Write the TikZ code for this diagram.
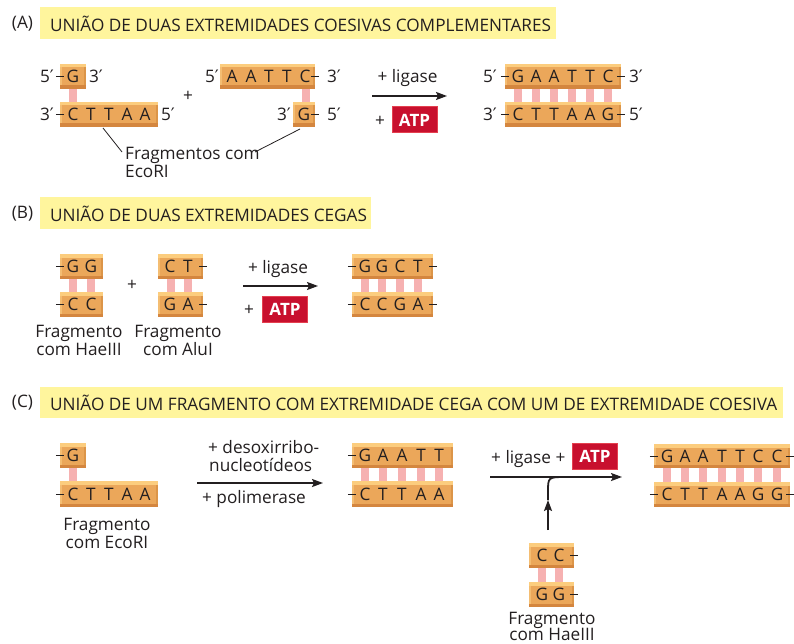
\documentclass[tikz,border=0pt]{standalone}
\usepackage{fontspec}
\setmainfont{Open Sans}
\newfontfamily\primefont{DejaVu Sans}
\usetikzlibrary{arrows.meta}
\definecolor{boxmain}{HTML}{EBA75A}
\definecolor{boxtop}{HTML}{FCCD7E}
\definecolor{boxbot}{HTML}{D4863F}
\definecolor{boxleft}{HTML}{F4BD72}
\definecolor{boxright}{HTML}{DC9548}
\definecolor{pinkbar}{HTML}{F6B1B1}
\definecolor{banner}{HTML}{FFF59D}
\definecolor{atpred}{HTML}{C8102E}
\definecolor{atpedge}{HTML}{E4404F}
\definecolor{ink}{HTML}{231F20}
\newcommand\pr{{\primefont\char"2032}}
\newcommand\strandat[5]{\node[strand, minimum width={(#4)-(#2)}, minimum height={(#5)-(#3)}] (#1) at ({((#2)+(#4))/2},{((#3)+(#5))/2}) {};}
\newcommand\seq[3]{\foreach \xx/\ll [count=\k] in {#3} \node[nt] (#1-\k) at (\xx,#2) {\ll};}
\newcommand\bars[3]{\foreach \xx in {#3} \fill[pinkbar] (\xx-4,#1) rectangle (\xx+4,#2);}
\newcommand\dashL[1]{\draw[dashln] ([xshift=-4pt]#1.west) -- ([xshift=4pt]#1.west);}
\newcommand\dashR[1]{\draw[dashln] ([xshift=-4pt]#1.east) -- ([xshift=4pt]#1.east);}
\begin{document}
\begin{tikzpicture}[x=1pt,y=-1pt,
  every node/.style={text=ink},
  txt/.style={font=\fontsize{17.2}{20}\selectfont, inner sep=0pt},
  nt/.style={txt},
  lab/.style={txt, anchor=base},
  strand/.style={draw=none, fill=boxmain, inner sep=0pt, path picture={
    \fill[boxleft] (path picture bounding box.north west) rectangle ([xshift=2pt]path picture bounding box.south west);
    \fill[boxright] ([xshift=-2pt]path picture bounding box.north east) rectangle (path picture bounding box.south east);
    \fill[boxtop] (path picture bounding box.north west) rectangle ([yshift=-3.5pt]path picture bounding box.north east);
    \fill[boxbot] ([yshift=3.5pt]path picture bounding box.south west) rectangle (path picture bounding box.south east);}},
  dashln/.style={draw=ink, line width=0.9pt},
  atp/.style={fill=atpred, draw=atpedge, line width=1pt, text=white, font=\bfseries\fontsize{17}{17}\selectfont, minimum width=45pt, minimum height=26pt, inner sep=0pt},
  arr/.style={draw=ink, line width=1.8pt, -{Stealth[length=11pt,width=8pt,inset=2pt]}},
  thin/.style={draw=ink, line width=0.8pt}
]
\useasboundingbox (0,0) rectangle (794,644);
\fill[white] (0,0) rectangle (794,644);

% ===== (A) =====
\fill[banner] (40,7) rectangle (556,39);
\node[txt] (lA) at (22.5,24) {(A)};
\node[txt, anchor=west] (tA) at (50,24) {UNIÃO DE DUAS EXTREMIDADES COESIVAS COMPLEMENTARES};

\strandat{a1t}{60}{64}{86}{89}
\strandat{a1b}{60}{102}{158}{127}
\bars{89}{102}{73}
\seq{a1t}{76.5}{73/G}
\seq{a1b}{114.5}{73/C,91/T,109/T,127/A,145/A}
\dashL{a1t} \dashL{a1b}
\node[nt] (p1) at (47,76.5) {5\pr};
\node[nt] (p2) at (96,76.5) {3\pr};
\node[nt] (p3) at (47,114.5) {3\pr};
\node[nt] (p4) at (168,114.5) {5\pr};

\node[txt] (plusA) at (188,96) {+};

\strandat{a2t}{220}{64}{315}{89}
\strandat{a2b}{293}{102}{315}{127}
\bars{89}{102}{306}
\seq{a2t}{76.5}{232/A,251/A,269/T,287/T,305/C}
\seq{a2b}{114.5}{304/G}
\dashR{a2t} \dashR{a2b}
\node[nt] (p5) at (212,76.5) {5\pr};
\node[nt] (p6) at (334,76.5) {3\pr};
\node[nt] (p7) at (284,114.5) {3\pr};
\node[nt] (p8) at (334,114.5) {5\pr};

\node[lab, anchor=base west] (fA1) at (125,160) {Fragmentos com};
\node[lab, anchor=base west] (fA2) at (125,178) {EcoRI};
\coordinate (cA1) at (103,128);
\coordinate (cA2) at (122,152);
\coordinate (cA3) at (300,129);
\coordinate (cA4) at (255,152);
\draw[thin] (cA1) -- (cA2);
\draw[thin] (cA3) -- (cA4);

\coordinate (arA1) at (372,96);
\coordinate (arA2) at (447,96);
\draw[arr] (arA1) -- (arA2);
\node[lab] (ligA) at (407.5,83) {+ ligase};
\node[txt] (plA) at (380,121) {+};
\node[atp] (atpA) at (414.5,120) {ATP};

\strandat{r1t}{505}{64}{621}{89}
\strandat{r1b}{505}{102}{621}{127}
\bars{89}{102}{518,536,554,572,590,608}
\seq{r1t}{76.5}{518/G,536/A,554/A,572/T,590/T,608/C}
\seq{r1b}{114.5}{518/C,536/T,554/T,572/A,590/A,608/G}
\dashL{r1t} \dashR{r1t} \dashL{r1b} \dashR{r1b}
\node[nt] (p9) at (490,76.5) {5\pr};
\node[nt] (p10) at (636,76.5) {3\pr};
\node[nt] (p11) at (490,114.5) {3\pr};
\node[nt] (p12) at (636,114.5) {5\pr};

% ===== (B) =====
\fill[banner] (40,197) rectangle (371,229);
\node[txt] (lB) at (22.5,214) {(B)};
\node[txt, anchor=west] (tB) at (50,214) {UNIÃO DE DUAS EXTREMIDADES CEGAS};

\strandat{b1t}{60}{254}{103}{279}
\strandat{b1b}{60}{292}{103}{317}
\bars{279}{292}{73,91}
\seq{b1t}{266.5}{73/G,91/G}
\seq{b1b}{304.5}{73/C,91/C}
\dashL{b1t} \dashL{b1b}
\node[lab] (fB1) at (79,337) {Fragmento};
\node[lab] (fB2) at (79,355) {com HaeIII};

\node[txt] (plusB) at (132,285) {+};

\strandat{b2t}{158}{254}{203}{279}
\strandat{b2b}{158}{292}{203}{317}
\bars{279}{292}{171,188}
\seq{b2t}{266.5}{170/C,188/T}
\seq{b2b}{304.5}{170/G,188/A}
\dashR{b2t} \dashR{b2b}
\node[lab] (fB3) at (178,337) {Fragmento};
\node[lab] (fB4) at (178,355) {com AluI};

\coordinate (arB1) at (243,286);
\coordinate (arB2) at (318,286);
\draw[arr] (arB1) -- (arB2);
\node[lab] (ligB) at (278,273) {+ ligase};
\node[txt] (plB) at (249,310) {+};
\node[atp] (atpB) at (285,309.5) {ATP};

\strandat{b3t}{352}{254}{433}{279}
\strandat{b3b}{352}{292}{433}{317}
\bars{279}{292}{365,382,400,418}
\seq{b3t}{266.5}{365/G,382/G,400/C,418/T}
\seq{b3b}{304.5}{365/C,382/C,400/G,418/A}
\dashL{b3t} \dashR{b3t} \dashL{b3b} \dashR{b3b}

% ===== (C) =====
\fill[banner] (40,387) rectangle (783,418);
\node[txt] (lC) at (22.5,403) {(C)};
\node[txt, anchor=west] (tC) at (50,403) {UNIÃO DE UM FRAGMENTO COM EXTREMIDADE CEGA COM UM DE EXTREMIDADE COESIVA};

\strandat{c1t}{60}{443}{86}{468}
\strandat{c1b}{60}{481}{158}{507}
\bars{468}{481}{73}
\seq{c1t}{455.5}{73/G}
\seq{c1b}{494}{73/C,91/T,109/T,127/A,145/A}
\dashL{c1t} \dashL{c1b}
\node[lab] (fC1) at (107,530) {Fragmento};
\node[lab] (fC2) at (107,548) {com EcoRI};

\coordinate (arC1) at (197,483);
\coordinate (arC2) at (323,483);
\draw[arr] (arC1) -- (arC2);
\node[lab, anchor=base west] (dC1) at (208,453) {+ desoxirribo-};
\node[lab, anchor=base west] (dC2) at (209,471) {nucleotídeos};
\node[lab, anchor=base west] (dC3) at (202,503) {+ polimerase};

\strandat{c2t}{352}{443}{453}{468}
\strandat{c2b}{352}{481}{453}{507}
\bars{468}{481}{365,383,402,421,439}
\seq{c2t}{455.5}{365/G,383/A,402/A,421/T,439/T}
\seq{c2b}{494}{365/C,383/T,402/T,421/A,439/A}
\dashL{c2t} \dashL{c2b}

\coordinate (arD1) at (490,477);
\coordinate (arD2) at (622,477);
\draw[arr] (arD1) -- (arD2);
\node[lab, anchor=base west] (ligC) at (491,463) {+ ligase +};
\node[atp] (atpC) at (595,456) {ATP};

\strandat{c4t}{529}{543}{574}{568}
\strandat{c4b}{529}{582}{574}{607}
\bars{568}{582}{542,559}
\seq{c4t}{555.5}{542/C,559/C}
\seq{c4b}{594.5}{542/G,559/G}
\dashR{c4t} \dashR{c4b}
\node[lab] (fC3) at (552,624) {Fragmento};
\node[lab] (fC4) at (552,640) {com HaeIII};

\coordinate (brA) at (548,530);
\coordinate (brM) at (548,500);
\coordinate (brB) at (548,492);
\coordinate (brC) at (548,477);
\coordinate (brD) at (566,477);
\draw[arr] (brA) -- (brM);
\draw[draw=ink, line width=1.8pt] (brM) -- (brB) .. controls (brC) .. (brD);

\strandat{c3t}{654}{444}{790}{468}
\strandat{c3b}{654}{482}{790}{507}
\bars{468}{482}{667,685,703,722,740,758,777}
\seq{c3t}{456}{667/G,685/A,703/A,722/T,740/T,758/C,777/C}
\seq{c3b}{494.5}{667/C,685/T,703/T,722/A,740/A,758/G,777/G}
\dashL{c3t} \dashR{c3t} \dashL{c3b} \dashR{c3b}
\end{tikzpicture}
\end{document}
